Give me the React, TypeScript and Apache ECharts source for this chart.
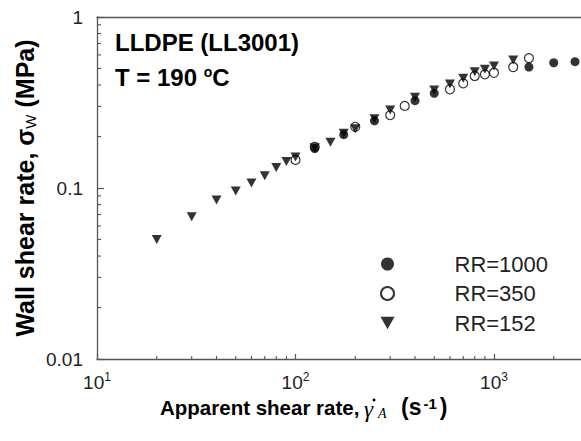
import React, { useEffect, useRef } from "react";
import * as echarts from "echarts";

const RR1000_X = [125, 175, 250, 400, 500, 1500, 2000, 2560];
const RR1000_Y = [0.170, 0.205, 0.247, 0.324, 0.358, 0.510, 0.540, 0.548];

const RR350_X = [100, 125, 200, 300, 355, 600, 700, 800, 900, 1000, 1250, 1500];
const RR350_Y = [0.146, 0.174, 0.228, 0.267, 0.302, 0.378, 0.409, 0.452, 0.462, 0.472, 0.510, 0.575];

const RR152_X = [20, 30, 40, 50, 60, 70, 80, 90, 100, 125, 150, 175, 200, 250, 300, 400, 500, 600, 700, 800, 900, 1000, 1250];
const RR152_Y = [0.050, 0.068, 0.085, 0.096, 0.107, 0.118, 0.132, 0.143, 0.152, 0.172, 0.185, 0.209, 0.222, 0.254, 0.286, 0.339, 0.374, 0.406, 0.438, 0.479, 0.494, 0.517, 0.560];

const X_MINOR = [20, 30, 40, 50, 60, 70, 80, 90, 200, 300, 400, 500, 600, 700, 800, 900, 2000];
const Y_MINOR = [0.02, 0.03, 0.04, 0.05, 0.06, 0.07, 0.08, 0.09, 0.2, 0.3, 0.4, 0.5, 0.6, 0.7, 0.8, 0.9];

const X_MIN = 10;
const X_MAX = 2744;
const Y_MIN = 0.01;
const Y_MAX = 1;

const SERIES_NAMES = ["RR=1000", "RR=350", "RR=152"];
const TITLE_LINE1 = "LLDPE (LL3001)";

const zip = (xs: number[], ys: number[]) => xs.map((x, i) => [x, ys[i]]);

const AXIS_COLOR = "#555";
const FONT = "'Liberation Sans', Arial, sans-serif";
const SERIF = "'Liberation Serif', 'Times New Roman', serif";

export default function App() {
  const ref = useRef<HTMLDivElement>(null);
  useEffect(() => {
    document.body.style.margin = "0";
    const chart = echarts.init(ref.current!, null, { renderer: "svg" });
    const supLabel = (v: number) => {
      const e = Math.round(Math.log10(v));
      if (Math.abs(Math.log10(v) - e) > 1e-6) return "";
      return `{b|10}{s|${e}}`;
    };
    const yLabel = (v: number) => {
      const e = Math.round(Math.log10(v));
      if (Math.abs(Math.log10(v) - e) > 1e-6) return "";
      return e === 0 ? "1" : e === -1 ? "0.1" : "0.01";
    };
    const option: any = {
      animation: false,
      backgroundColor: "#fff",
      grid: { left: 97, right: 0, top: 17, bottom: 82, show: false },
      xAxis: [
        {
          type: "log",
          logBase: 10,
          min: X_MIN,
          max: X_MAX,
          position: "bottom",
          axisLine: { show: true, lineStyle: { color: AXIS_COLOR, width: 1.3 } },
          axisTick: { show: true, inside: true, length: 5, lineStyle: { color: AXIS_COLOR, width: 1.2 } },
          splitLine: { show: false },
          axisLabel: {
            formatter: supLabel,
            margin: 12,
            color: "#222",
            showMaxLabel: false,
            rich: {
              b: { fontSize: 19, fontFamily: FONT, color: "#222", lineHeight: 22 },
              s: { fontSize: 12, fontFamily: FONT, color: "#222", verticalAlign: "top" },
            },
          },
        },
        {
          type: "log",
          logBase: 10,
          min: X_MIN,
          max: X_MAX,
          position: "top",
          axisLine: { show: true, lineStyle: { color: AXIS_COLOR, width: 1.3 } },
          axisTick: { show: false },
          axisLabel: { show: false },
          splitLine: { show: false },
        },
      ],
      yAxis: {
        type: "log",
        logBase: 10,
        min: Y_MIN,
        max: Y_MAX,
        axisLine: { show: true, lineStyle: { color: AXIS_COLOR, width: 1.3 } },
        axisTick: { show: true, inside: true, length: 7, lineStyle: { color: AXIS_COLOR, width: 1.2 } },
        splitLine: { show: false },
        axisLabel: {
          formatter: yLabel,
          margin: 14,
          fontSize: 19,
          fontFamily: FONT,
          color: "#222",
        },
      },
      legend: {
        orient: "vertical",
        left: 380,
        top: 251,
        padding: 0,
        itemWidth: 14,
        itemHeight: 13,
        itemGap: 3.5,
        data: [
          { name: SERIES_NAMES[0] },
          { name: SERIES_NAMES[1] },
          { name: SERIES_NAMES[2], icon: "path://M0,0 L10,0 L5,9 Z" },
        ],
        textStyle: {
          fontSize: 22,
          fontFamily: FONT,
          color: "#222",
          lineHeight: 26,
          padding: [0, 0, 0, 55],
        },
      },
      graphic: [
        {
          type: "text",
          left: 115,
          top: 30,
          style: {
            text: TITLE_LINE1,
            fontSize: 24,
            fontWeight: "bold",
            fontFamily: FONT,
            fill: "#000",
          },
        },
        {
          type: "text",
          left: 115,
          top: 65,
          style: {
            text: "{m|T = 190 }{o|o}{m|C}",
            rich: {
              m: { fontSize: 24, fontWeight: "bold", fontFamily: FONT, color: "#000" },
              o: { fontSize: 14, fontWeight: "bold", fontFamily: FONT, color: "#000", verticalAlign: "top" },
            },
          },
        },
        {
          type: "text",
          x: 160,
          y: 407,
          style: {
            text: "Apparent shear rate,",
            align: "left",
            verticalAlign: "middle",
            fontSize: 20.5,
            fontWeight: "bold",
            fontFamily: FONT,
            fill: "#000",
          },
        },
        {
          type: "text",
          x: 364,
          y: 409,
          style: {
            text: "γ",
            align: "left",
            verticalAlign: "middle",
            fontSize: 23,
            fontStyle: "italic",
            fontFamily: SERIF,
            fill: "#000",
          },
        },
        {
          type: "circle",
          shape: { cx: 374, cy: 400, r: 1.5 },
          style: { fill: "#000" },
        },
        {
          type: "text",
          x: 378,
          y: 413,
          style: {
            text: "A",
            align: "left",
            verticalAlign: "middle",
            fontSize: 14,
            fontStyle: "italic",
            fontFamily: SERIF,
            fill: "#000",
          },
        },
        {
          type: "text",
          x: 401,
          y: 407,
          style: {
            text: "{m|(s}{p|-1}{m|)}",
            align: "left",
            verticalAlign: "middle",
            rich: {
              m: { fontSize: 23, fontWeight: "bold", fontFamily: FONT, color: "#000" },
              p: { fontSize: 15, fontWeight: "bold", fontFamily: FONT, color: "#000", verticalAlign: "top", padding: [0, 3, 0, 2] },
            },
          },
        },
        {
          type: "text",
          x: 25,
          y: 188,
          rotation: Math.PI / 2,
          style: {
            text: "{m|Wall shear rate, σ}{w|W}{m| (MPa)}",
            align: "center",
            verticalAlign: "middle",
            rich: {
              m: { fontSize: 25, fontWeight: "bold", fontFamily: FONT, color: "#000" },
              w: { fontSize: 15, fontFamily: FONT, color: "#000", verticalAlign: "bottom", padding: [7, 0, 0, 0] },
            },
          },
        },
      ],
      series: [
        {
          name: SERIES_NAMES[0],
          type: "scatter",
          data: zip(RR1000_X, RR1000_Y),
          symbol: "circle",
          symbolSize: 9,
          itemStyle: { color: "#000" },
        },
        {
          name: SERIES_NAMES[1],
          type: "scatter",
          data: zip(RR350_X, RR350_Y),
          symbol: "circle",
          symbolSize: 9,
          itemStyle: { color: "rgba(255,255,255,0)", borderColor: "#000", borderWidth: 1.2 },
        },
        {
          name: SERIES_NAMES[2],
          type: "scatter",
          data: zip(RR152_X, RR152_Y),
          symbol: "triangle",
          symbolRotate: 180,
          symbolSize: [10, 9],
          itemStyle: { color: "#000" },
        },
        {
          type: "custom",
          silent: true,
          clip: false,
          data: X_MINOR.map((v) => [v, Y_MIN]),
          renderItem: (_p: any, api: any) => {
            const pt = api.coord([api.value(0), api.value(1)]);
            return {
              type: "line",
              shape: { x1: pt[0], y1: pt[1], x2: pt[0], y2: pt[1] - 3 },
              style: { stroke: AXIS_COLOR, lineWidth: 1.1 },
            };
          },
        },
        {
          type: "custom",
          silent: true,
          clip: false,
          data: Y_MINOR.map((v) => [X_MIN, v]),
          renderItem: (_p: any, api: any) => {
            const pt = api.coord([api.value(0), api.value(1)]);
            return {
              type: "line",
              shape: { x1: pt[0], y1: pt[1], x2: pt[0] + 4, y2: pt[1] },
              style: { stroke: AXIS_COLOR, lineWidth: 1.1 },
            };
          },
        },
      ],
    };
    chart.setOption(option);
    return () => chart.dispose();
  }, []);
  return <div ref={ref} style={{ width: 581, height: 441 }} />;
}
